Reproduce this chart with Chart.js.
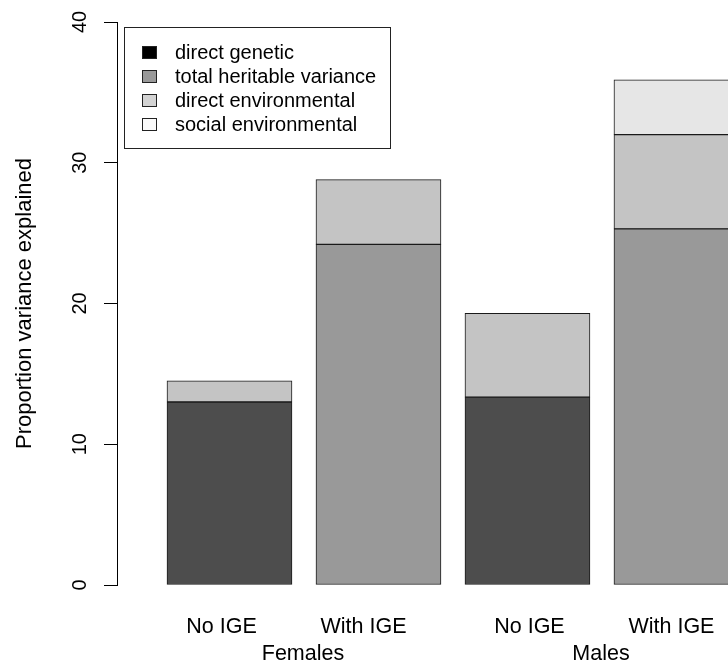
<!DOCTYPE html>
<html>
<head>
<meta charset="utf-8">
<title>Proportion variance explained</title>
<script src="https://cdn.jsdelivr.net/npm/chart.js@4/dist/chart.umd.min.js"></script>
<style>
    html, body { margin: 0; padding: 0; background: #fff; }
    #wrap { width: 728px; height: 664px; }
</style>
</head>
<body>
<div id="wrap"><canvas id="chartVariance" width="728" height="664"></canvas></div>
<script>
// ─────────────────────────────────────────────
// Stacked variance components, Females / Males, with and without IGE
// ─────────────────────────────────────────────

// Data
const categories     = ["No IGE", "With IGE", "No IGE", "With IGE"];
const groups         = ["Females", "Males"];
const seriesNames    = ["direct genetic", "total heritable variance", "direct environmental", "social environmental"];
const directGenetic  = [13.0, null, 13.35, null];
const totalHeritable = [null, 24.2, null, 25.3];
const directEnv      = [1.5, 4.6, 5.95, 6.7];
const socialEnv      = [null, null, null, 3.9];
const yTicks         = [0, 10, 20, 30, 40];

// Styling
const FONT        = "'Liberation Sans', Arial, Helvetica, sans-serif";
const BAR_COLORS  = ["#4D4D4D", "#999999", "#C4C4C4", "#E6E6E6"];
const KEY_COLORS  = ["#000000", "#999999", "#D3D3D3", "#FAFAFA"];  // legend swatches differ from the bars
const EDGE        = "#1a1a1a";
const LABEL_SHIFT = [-8, -15, 2, -5];   // px nudge of the bar labels, as in the original

const series = [directGenetic, totalHeritable, directEnv, socialEnv];

// ═══════════════════════════════════════════════
// Overlay: rotated y tick labels, bar labels, legend box
// ═══════════════════════════════════════════════
const overlay = {
    id: "overlay",
    afterDraw(chart) {
        const ctx = chart.ctx;
        const xs = chart.scales.x, ys = chart.scales.y;
        ctx.save();
        ctx.fillStyle = "#000";

        // y tick labels, reading bottom to top like R
        ctx.font = "20px " + FONT;
        ctx.textAlign = "center";
        ctx.textBaseline = "alphabetic";
        yTicks.forEach(v => {
            ctx.save();
            ctx.translate(86, ys.getPixelForValue(v));
            ctx.rotate(-Math.PI / 2);
            ctx.fillText(String(v), 0, 0);
            ctx.restore();
        });

        // bar labels and group labels
        ctx.font = "21.5px " + FONT;
        categories.forEach((c, i) => {
            ctx.fillText(c, xs.getPixelForValue(i + 1) + LABEL_SHIFT[i], 633);
        });
        groups.forEach((g, j) => {
            const mid = (xs.getPixelForValue(2 * j + 1) + xs.getPixelForValue(2 * j + 2)) / 2;
            ctx.fillText(g, mid - 1, 660);
        });

        // legend
        ctx.strokeStyle = "#222";
        ctx.lineWidth = 1;
        ctx.fillStyle = "#fff";
        ctx.fillRect(124.5, 27.5, 266, 121);
        ctx.strokeRect(124.5, 27.5, 266, 121);
        ctx.font = "20px " + FONT;
        ctx.textAlign = "left";
        seriesNames.forEach((name, i) => {
            const cy = 52 + i * 24.2;
            ctx.fillStyle = KEY_COLORS[i];
            ctx.fillRect(142.5, Math.round(cy - 6.5) + 0.5, 14, 12);
            ctx.strokeRect(142.5, Math.round(cy - 6.5) + 0.5, 14, 12);
            ctx.fillStyle = "#000";
            ctx.fillText(name, 175, cy + 6.5);
        });
        ctx.restore();
    }
};

// ═══════════════════════════════════════════════
// Chart
// ═══════════════════════════════════════════════
new Chart(document.getElementById("chartVariance"), {
    type: "bar",
    data: {
        datasets: series.map((vals, k) => ({
            label: seriesNames[k],
            data: vals.map((v, i) => ({ x: i + 1, y: v })),
            backgroundColor: BAR_COLORS[k],
            borderColor: EDGE,
            borderWidth: 1,
            borderSkipped: false,
            barThickness: 125,
        }))
    },
    options: {
        responsive: false,
        devicePixelRatio: 1,
        animation: false,
        layout: { padding: { top: 22, bottom: 79, left: 0, right: 0 } },
        plugins: {
            legend: { display: false },
            tooltip: { enabled: false }
        },
        scales: {
            x: {
                type: "linear",
                stacked: true,
                display: false,
                offset: false,
                grid: { offset: false },
                min: 0.245,
                max: 4.346,
            },
            y: {
                stacked: true,
                min: 0,
                max: 40,
                afterBuildTicks: scale => { scale.ticks = yTicks.map(v => ({ value: v })); },
                afterFit: scale => { scale.width = 117; },
                ticks: { display: false },
                grid: { drawOnChartArea: false, drawTicks: true, tickLength: 13, color: "#000", lineWidth: 1 },
                border: { display: true, color: "#000", width: 1 },
                title: {
                    display: true,
                    text: "Proportion variance explained",
                    color: "#000",
                    font: { family: FONT, size: 22 },
                    padding: { top: 12, bottom: 0 }
                }
            }
        }
    },
    plugins: [overlay]
});
</script>
</body>
</html>
